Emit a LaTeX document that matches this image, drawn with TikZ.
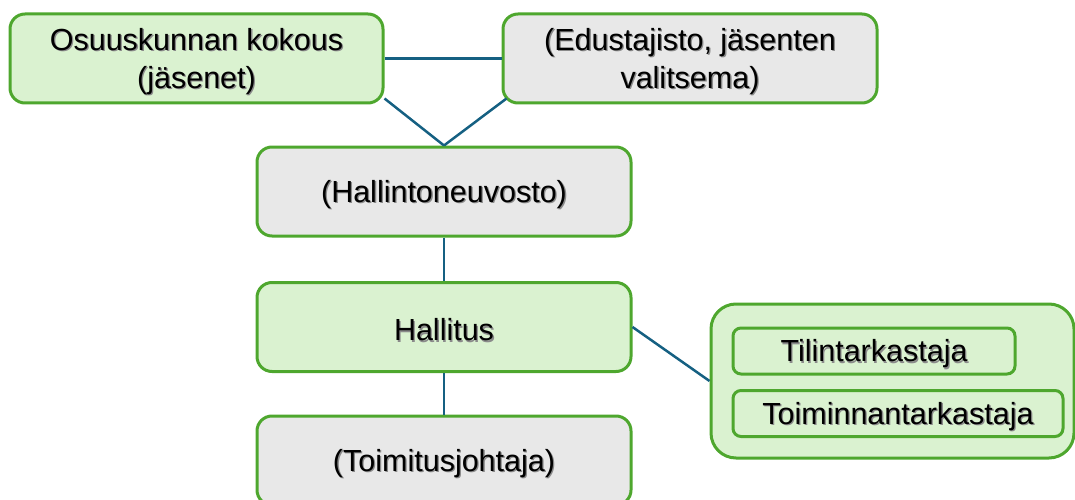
\documentclass[tikz,border=0pt]{standalone}
\usepackage{fontspec}
\setmainfont{Liberation Sans}
\usetikzlibrary{calc}

\definecolor{boxgreen}{HTML}{4EA72E}
\definecolor{fillgreen}{HTML}{DAF2D0}
\definecolor{fillgray}{HTML}{E8E8E8}
\definecolor{linkblue}{HTML}{156082}
\definecolor{shadowgray}{HTML}{8A8A8A}

% text with a soft drop shadow, set slightly below the optical centre
\newcommand\shd[1]{\raisebox{-3.5pt}[\height][\depth]{\rlap{\kern1.3pt\raisebox{-1.3pt}{\textcolor{shadowgray}{#1}}}#1}}

\tikzset{
  orgbox/.style={draw=boxgreen, line width=3pt, rounded corners=15pt,
    minimum width=373pt, minimum height=89pt, inner sep=0pt,
    align=center, font=\fontsize{30.5}{38}\selectfont, text=black},
  greenbox/.style={orgbox, fill=fillgreen},
  graybox/.style={orgbox, fill=fillgray},
  groupbox/.style={draw=boxgreen, line width=3pt, rounded corners=25pt,
    fill=fillgreen, minimum width=363pt, minimum height=154pt, inner sep=0pt},
  smallbox/.style={draw=boxgreen, line width=3pt, rounded corners=8pt,
    fill=fillgreen, minimum height=46pt, inner sep=0pt,
    font=\fontsize{30.5}{38}\selectfont, text=black},
  link/.style={draw=linkblue, line width=2.5pt}
}

\begin{document}
\begin{tikzpicture}[x=1pt, y=-1pt]
  \useasboundingbox (0,0) rectangle (1075,500);
  \clip (0,0) rectangle (1075,500);

  % top row
  \node[greenbox] (osu) at (196.5,58.5) {\shd{Osuuskunnan kokous}\\\shd{(jäsenet)}};
  \node[graybox, minimum width=374pt] (edu) at (690,58.5) {\shd{(Edustajisto, jäsenten}\\\shd{valitsema)}};

  % main chain
  \node[graybox, minimum width=374pt] (hn) at (444,191.5) {\shd{(Hallintoneuvosto)}};
  \node[greenbox, minimum width=374pt] (hal) at (444,327) {\shd{Hallitus}};
  \node[graybox, minimum width=374pt] (toim) at (444,460.5) {\shd{(Toimitusjohtaja)}};

  % auditors group
  \node[groupbox] (grp) at (892.5,381) {};
  \node[smallbox, minimum width=282pt] (tili) at (874,351) {\shd{Tilintarkastaja}};
  \node[smallbox, minimum width=330pt] (toiminn) at (898,413.5) {\shd{Toiminnantarkastaja}};

  % connectors
  \draw[link] (osu.east) -- (edu.west);
  \draw[link] ([yshift=6pt]osu.south east) -- (hn.north);
  \draw[link] ([xshift=5pt,yshift=6pt]edu.south west) -- (hn.north);
  \draw[link] (hn.south) -- (hal.north);
  \draw[link] (hal.south) -- (toim.north);
  \draw[link] (hal.east) -- (grp.west);
\end{tikzpicture}
\end{document}
